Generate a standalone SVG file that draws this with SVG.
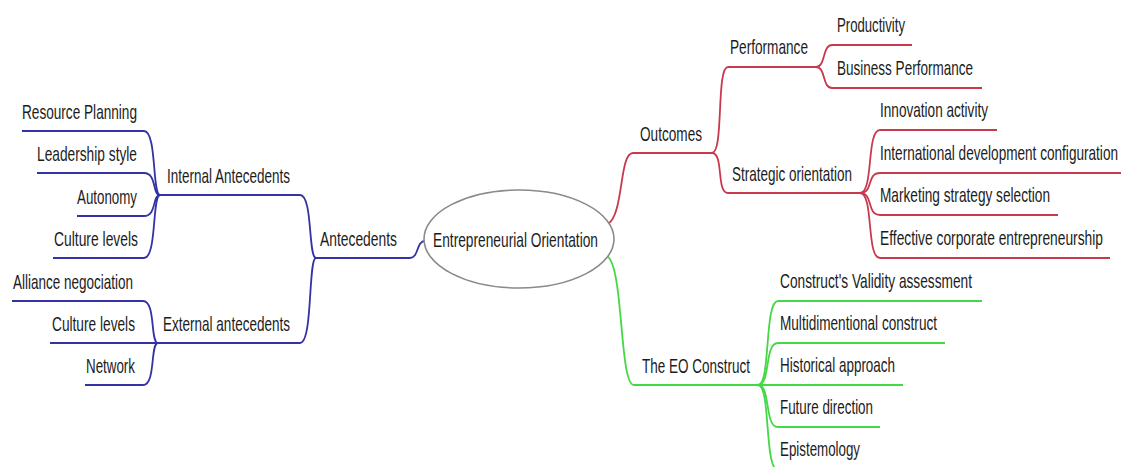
<svg xmlns="http://www.w3.org/2000/svg" width="1121" height="467" viewBox="0 0 1121 467">
<style>
text{font-family:"Liberation Sans",Arial,sans-serif;font-size:21px;fill:#1c1c1c}
.b{fill:none;stroke:#3333a6;stroke-width:1.8}
.r{fill:none;stroke:#c9394d;stroke-width:1.8}
.g{fill:none;stroke:#45d845;stroke-width:1.8}
.e{fill:#fff;stroke:#8a8a8a;stroke-width:1.6}
</style>
<rect width="1121" height="467" fill="#fff"/>
<g id="connectors">
<path class="b" d="M22,131 H144 C157,131 152,195 160,195"/>
<path class="b" d="M37,173 H144 C157,173 152,195 160,195"/>
<path class="b" d="M77,216 H144 C157,216 152,195 160,195"/>
<path class="b" d="M53,258 H144 C157,258 152,195 160,195"/>
<path class="b" d="M160,195 H300 C313,195 308,258 316,258"/>
<path class="b" d="M12,301 H143 C156,301 150,343 158,343"/>
<path class="b" d="M50,343 H158"/>
<path class="b" d="M85,385 H143 C156,385 150,343 158,343"/>
<path class="b" d="M158,343 H300 C313,343 308,258 316,258"/>
<path class="b" d="M316,258 H410 C419,258 416,241 425,241"/>
<path class="r" d="M608,224 C624,214 619,153 633,153 H712"/>
<path class="r" d="M712,153 C724,153 716,67 728,67 H816"/>
<path class="r" d="M712,153 C724,153 716,193 728,193 H860"/>
<path class="r" d="M816,67 C826,67 822,45 832,45 H912"/>
<path class="r" d="M816,67 C826,67 822,88 832,88 H982"/>
<path class="r" d="M860,193 C874,193 866,130 880,130 H997"/>
<path class="r" d="M860,193 C874,193 866,173 880,173 H1121"/>
<path class="r" d="M860,193 C874,193 866,215 880,215 H1058"/>
<path class="r" d="M860,193 C874,193 866,258 880,258 H1110"/>
<path class="g" d="M607,256 C624,266 619,385 634,385 H758"/>
<path class="g" d="M758,385 C771,385 764,301 778,301 H982"/>
<path class="g" d="M758,385 C771,385 764,343 778,343 H945"/>
<path class="g" d="M758,385 H903"/>
<path class="g" d="M758,385 C771,385 764,427 778,427 H880"/>
<path class="g" d="M758,385 C771,385 764,470 778,470 H870"/>
</g>
<g id="center">
<ellipse class="e" cx="519" cy="239" rx="95" ry="49"/>
<text x="433" y="247" textLength="165" lengthAdjust="spacingAndGlyphs">Entrepreneurial Orientation</text>
</g>
<g id="antecedents"><text x="320" y="246" textLength="77" lengthAdjust="spacingAndGlyphs">Antecedents</text></g>
<g id="internal"><text x="167" y="183" textLength="123" lengthAdjust="spacingAndGlyphs">Internal Antecedents</text></g>
<g id="resource"><text x="22" y="119" textLength="115" lengthAdjust="spacingAndGlyphs">Resource Planning</text></g>
<g id="leadership"><text x="37" y="161" textLength="100" lengthAdjust="spacingAndGlyphs">Leadership style</text></g>
<g id="autonomy"><text x="77" y="204" textLength="60" lengthAdjust="spacingAndGlyphs">Autonomy</text></g>
<g id="culture1"><text x="54" y="246" textLength="84" lengthAdjust="spacingAndGlyphs">Culture levels</text></g>
<g id="external"><text x="163" y="331" textLength="127" lengthAdjust="spacingAndGlyphs">External antecedents</text></g>
<g id="alliance"><text x="13" y="289" textLength="120" lengthAdjust="spacingAndGlyphs">Alliance negociation</text></g>
<g id="culture2"><text x="52" y="331" textLength="83" lengthAdjust="spacingAndGlyphs">Culture levels</text></g>
<g id="network"><text x="86" y="373" textLength="49" lengthAdjust="spacingAndGlyphs">Network</text></g>
<g id="outcomes"><text x="640" y="141" textLength="62" lengthAdjust="spacingAndGlyphs">Outcomes</text></g>
<g id="performance"><text x="730" y="54" textLength="78" lengthAdjust="spacingAndGlyphs">Performance</text></g>
<g id="productivity"><text x="837" y="32" textLength="68" lengthAdjust="spacingAndGlyphs">Productivity</text></g>
<g id="business"><text x="837" y="75" textLength="136" lengthAdjust="spacingAndGlyphs">Business Performance</text></g>
<g id="strategic"><text x="732" y="181" textLength="120" lengthAdjust="spacingAndGlyphs">Strategic orientation</text></g>
<g id="innovation"><text x="880" y="117" textLength="108" lengthAdjust="spacingAndGlyphs">Innovation activity</text></g>
<g id="international"><text x="880" y="160" textLength="238" lengthAdjust="spacingAndGlyphs">International development configuration</text></g>
<g id="marketing"><text x="880" y="202" textLength="170" lengthAdjust="spacingAndGlyphs">Marketing strategy selection</text></g>
<g id="effective"><text x="880" y="245" textLength="223" lengthAdjust="spacingAndGlyphs">Effective corporate entrepreneurship</text></g>
<g id="eoconstruct"><text x="642" y="373" textLength="108" lengthAdjust="spacingAndGlyphs">The EO Construct</text></g>
<g id="validity"><text x="780" y="288" textLength="192" lengthAdjust="spacingAndGlyphs">Construct's Validity assessment</text></g>
<g id="multi"><text x="780" y="330" textLength="157" lengthAdjust="spacingAndGlyphs">Multidimentional construct</text></g>
<g id="historical"><text x="780" y="372" textLength="115" lengthAdjust="spacingAndGlyphs">Historical approach</text></g>
<g id="future"><text x="780" y="414" textLength="93" lengthAdjust="spacingAndGlyphs">Future direction</text></g>
<g id="epistemology"><text x="780" y="456" textLength="80" lengthAdjust="spacingAndGlyphs">Epistemology</text></g>
</svg>
